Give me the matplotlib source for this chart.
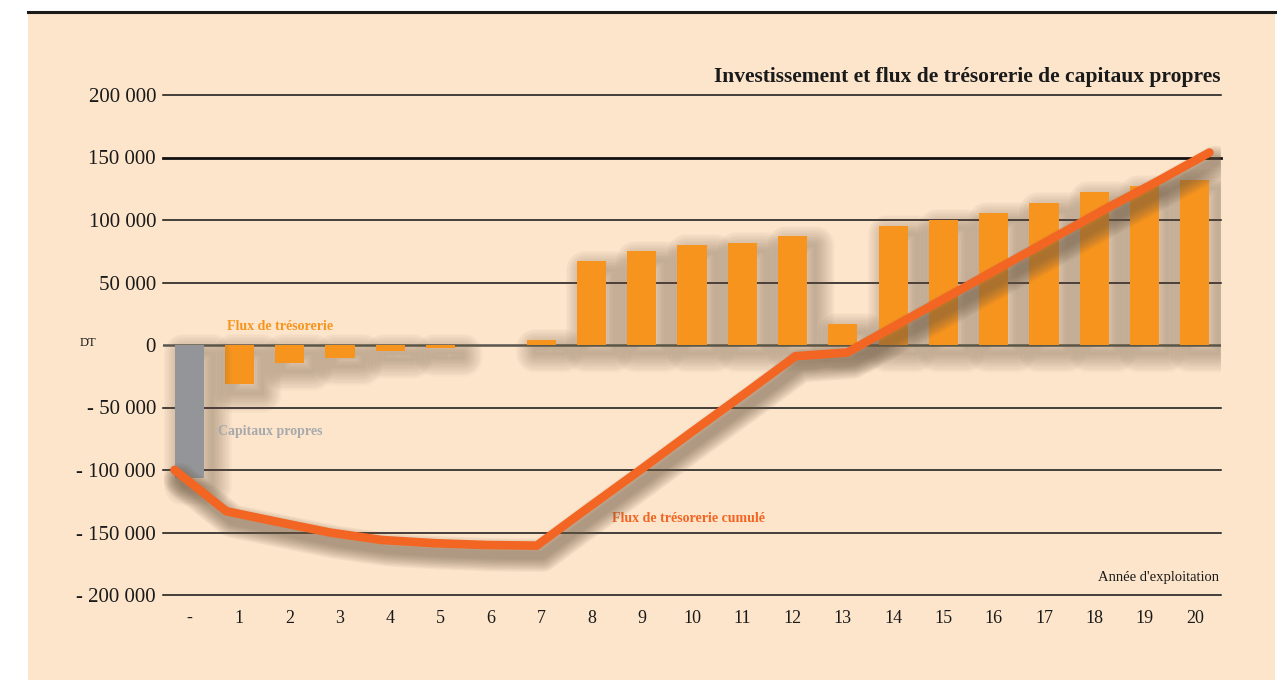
import numpy as np
import matplotlib.pyplot as plt
import matplotlib.patheffects as pe
from matplotlib.patches import Rectangle
from matplotlib.lines import Line2D

plt.rcParams['font.family'] = ['Liberation Serif', 'DejaVu Serif']

# years of operation, "-" is the initial investment year
years = ['-', '1', '2', '3', '4', '5', '6', '7', '8', '9', '10',
         '11', '12', '13', '14', '15', '16', '17', '18', '19', '20']
capitaux_propres = -106500
flux = [0, -31400, -14000, -10000, -4800, -2600, 0, 4200, 67000, 75000, 80000,
        81500, 87000, 16800, 95200, 100000, 105900, 113900, 122400, 127200, 132000]
flux_cumule = [-100000, -133000, -141600, -150000, -156000, -158500, -160000,
               -160500, -130000, -100000, -69500, -39500, -9000, -6000, 17000,
               40000, 63000, 86000, 109000, 131000, 154000]
y_ticks = [-200000, -150000, -100000, -50000, 0, 50000, 100000, 150000, 200000]

PEACH = '#fde5cb'
ORANGE = '#f7941e'
RED_ORANGE = '#f26522'
GREY = '#939598'
SHADOW = '#6e5a44'


class SoftShadow(pe.AbstractPathEffect):
    """Blurry drop shadow made of stacked, widening outline strokes."""

    def __init__(self, offset=(6, -6), color=SHADOW, alpha=0.03,
                 widths=range(2, 30, 2)):
        super().__init__(offset)
        self.color = color
        self.alpha = alpha
        self.widths = list(widths)

    def draw_path(self, renderer, gc, tpath, affine, rgbFace=None):
        tr = affine + self._offset_transform(renderer)
        for w in self.widths:
            gc0 = renderer.new_gc()
            gc0.copy_properties(gc)
            gc0.set_foreground(self.color)
            gc0.set_alpha(self.alpha)
            gc0.set_linewidth(w)
            gc0.set_joinstyle('round')
            gc0.set_capstyle('round')
            renderer.draw_path(gc0, tpath, tr, None)
            gc0.restore()


def fmt(v):
    s = f"{abs(v):,}".replace(',', ' ')
    return s if v >= 0 else '- ' + s


fig = plt.figure(figsize=(12.86, 6.80), dpi=100)
fig.patch.set_facecolor('white')
fig.patches.append(Rectangle((28 / 1286, 0), (1275 - 28) / 1286, 1 - 12 / 680,
                             transform=fig.transFigure, facecolor=PEACH,
                             edgecolor='none', zorder=-5))
fig.lines.append(Line2D([28 / 1286, 1275 / 1286], [1 - 11.5 / 680] * 2,
                        transform=fig.transFigure, color='#1a1a1a', lw=2.2,
                        zorder=-4))

ax = fig.add_axes([163 / 1286, 85 / 680, (1221 - 163) / 1286, 500 / 680])
ax.set_facecolor('none')
ax.set_xlim(-0.52, 20.52)
ax.set_ylim(-200000, 200000)
for s in ax.spines.values():
    s.set_visible(False)

# horizontal rules
for v in y_ticks:
    if v == 0:
        continue
    ax.axhline(v, color='#111111', lw=2.0 if v == 150000 else 1.1,
               zorder=1, clip_on=False)
ax.axhline(0, color='#5a5650', lw=1.8, zorder=1)

x = np.arange(len(years))
width = 0.58

bar_fx = [SoftShadow(offset=(6, -6), alpha=0.03), pe.Normal()]
bars = ax.bar(x[1:], flux[1:], width=width, color=ORANGE, zorder=3)
for b, v in zip(bars, flux[1:]):
    if v != 0:
        b.set_path_effects(bar_fx)
gb = ax.bar(x[0], capitaux_propres, width=width, color=GREY, zorder=3)
gb[0].set_path_effects(bar_fx)

line_x = np.linspace(-width / 2, x[-1] + width / 2, len(flux_cumule))
line_fx = [SoftShadow(offset=(4, -7), alpha=0.07, widths=range(6, 26, 2)),
           pe.Normal()]
ax.plot(line_x, flux_cumule, color=RED_ORANGE, lw=6.2, solid_capstyle='round',
        solid_joinstyle='round', zorder=5, path_effects=line_fx)

ax.set_yticks(y_ticks)
ax.set_yticklabels([fmt(v) for v in y_ticks])
ax.set_xticks(x)
ax.set_xticklabels(years)
ax.tick_params(axis='y', length=0, pad=5, labelsize=15, labelcolor='#1a1a1a')
ax.tick_params(axis='x', length=0, pad=11, labelsize=13, labelcolor='#1a1a1a')

# series labels
ax.text(0.76, 14400, 'Flux de trésorerie', color=ORANGE, fontsize=10,
        fontweight='bold', va='center', ha='left')
ax.text(0.58, -69000, 'Capitaux propres', color='#a7a9ac', fontsize=10,
        fontweight='bold', va='center', ha='left')
ax.text(8.41, -139000, 'Flux de trésorerie cumulé', color=RED_ORANGE,
        fontsize=10, fontweight='bold', va='center', ha='left')
ax.text(20.48, -186000, "Année d'exploitation", color='#1a1a1a', fontsize=10.5,
        va='center', ha='right')

fig.text(80 / 1286, 1 - 343 / 680, 'DT', fontsize=9, color='#1a1a1a',
         va='center', ha='left')
fig.text(1221 / 1286, 1 - 82 / 680,
         'Investissement et flux de trésorerie de capitaux propres',
         fontsize=15.5, fontweight='bold', color='#1a1a1a',
         ha='right', va='baseline')

fig.savefig('out.png', dpi=100, facecolor=fig.get_facecolor())
